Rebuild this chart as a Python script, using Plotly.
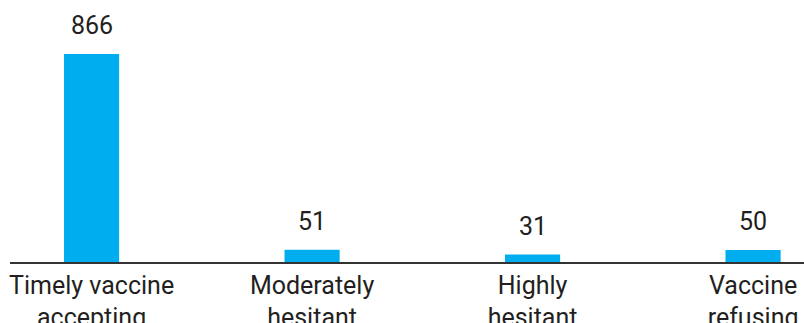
import plotly.graph_objects as go

categories = ["Timely vaccine<br>accepting", "Moderately<br>hesitant", "Highly<br>hesitant", "Vaccine<br>refusing"]
values = [866, 51, 31, 50]

FONT = "Liberation Sans Narrow, Roboto, Arial, sans-serif"
TXT = "#231f20"

fig = go.Figure(go.Bar(
    x=list(range(len(categories))), y=values, width=0.25,
    marker=dict(color="#00aeef", line=dict(width=0)),
))

for i, v in enumerate(values):
    fig.add_annotation(x=i, y=v, text=str(v), showarrow=False, yanchor="bottom",
                       yshift=12, font=dict(family=FONT, size=25, color=TXT))

fig.update_layout(
    width=804, height=323, margin=dict(l=10, r=0, t=0, b=61),
    plot_bgcolor="white", paper_bgcolor="white", showlegend=False,
    xaxis=dict(range=[-0.37, 3.231], tickvals=list(range(len(categories))), ticktext=categories,
               showline=True, linecolor="#333333", linewidth=1.5, showgrid=False, zeroline=False,
               automargin=False, ticks="", tickfont=dict(family=FONT, size=25, color=TXT),
               fixedrange=True),
    yaxis=dict(range=[0, 1091], visible=False, showgrid=False, zeroline=False, automargin=False),
)

fig.write_html("out.html")
